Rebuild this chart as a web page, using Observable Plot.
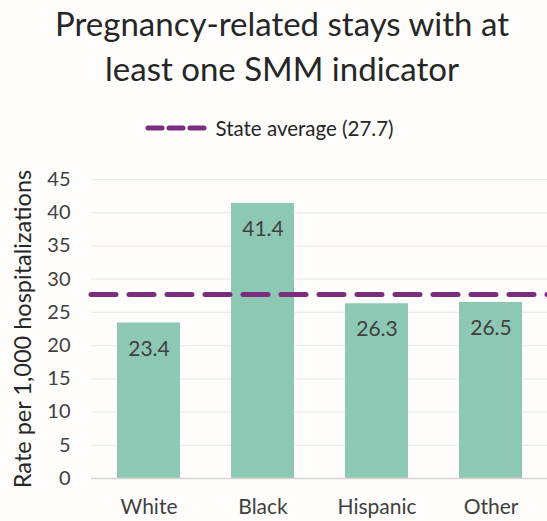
<!DOCTYPE html>
<html><head><meta charset="utf-8">
<script src="https://cdn.jsdelivr.net/npm/d3@7"></script>
<script src="https://cdn.jsdelivr.net/npm/@observablehq/plot@0.6"></script>
<style>
body{margin:0;background:#fefdfc;font-family:Lato,"Open Sans",sans-serif;color:#262626;}
#wrap{width:547px;height:521px;position:relative;overflow:hidden;}
#title{position:absolute;top:1px;left:0;width:564px;text-align:center;font-size:33px;line-height:45px;z-index:2;}
#legend{position:absolute;top:116px;left:-4px;width:547px;display:flex;justify-content:center;align-items:center;font-size:20.5px;color:#262626;z-index:2;}
#legend svg{margin-right:7px;}
#chart{position:absolute;top:100px;left:0;}
</style></head>
<body><div id="wrap">
<div id="title">Pregnancy-related stays with at<br>least one SMM indicator</div>
<div id="legend"><svg width="63" height="10"><line x1="3" x2="60" y1="5" y2="5" stroke="#7b2d7e" stroke-width="5" stroke-linecap="round" stroke-dasharray="14 7"/></svg><span>State average (27.7)</span></div>
<div id="chart"></div>
</div>
<script>
const groups = ["White","Black","Hispanic","Other"];
const rates = [23.4, 41.4, 26.3, 26.5];
const stateAverage = 27.7;
const yTicks = [0,5,10,15,20,25,30,35,40,45];
const yLabel = "Rate per 1,000 hospitalizations";

const data = groups.map((g,i)=>({group:g, rate:rates[i]}));

const chart = Plot.plot({
  width: 547, height: 421,
  marginLeft: 91, marginRight: -2, marginTop: 79, marginBottom: 43,
  style: {fontFamily: "Lato, 'Open Sans', sans-serif", fontSize: "20px", color: "#404040", background: "transparent"},
  x: {domain: groups, paddingInner: 0.445, paddingOuter: 0.2225, label: null},
  y: {domain: [0,45], ticks: yTicks, label: null},
  marks: [
    Plot.gridY(yTicks.filter(d=>d>0), {stroke: "#ececec", strokeOpacity: 1, strokeWidth: 1.2}),
    Plot.axisY({ticks: yTicks, tickSize: 0, tickPadding: 21, fontSize: 20, label: null}),
    Plot.axisX({tickSize: 0, tickPadding: 21, fontSize: 21, label: null}),
    Plot.barY(data, {x: "group", y: "rate", fill: "#8cc8b4"}),
    Plot.ruleY([0], {stroke: "#d9d3d0", strokeWidth: 1.5}),
    Plot.text(data, {x: "group", y: "rate", text: d => d.rate.toFixed(1), dy: 26, fill: "#404040", fontSize: 21}),
    Plot.ruleY([stateAverage], {stroke: "#7b2d7e", strokeWidth: 5, strokeDasharray: "25 13", strokeLinecap: "round"}),
    Plot.text([yLabel], {frameAnchor: "left", textAnchor: "middle", dx: -68, rotate: -90, fontSize: 23.5, fill: "#262626", text: d => d})
  ]
});
document.getElementById("chart").appendChild(chart);
</script>
</body></html>
